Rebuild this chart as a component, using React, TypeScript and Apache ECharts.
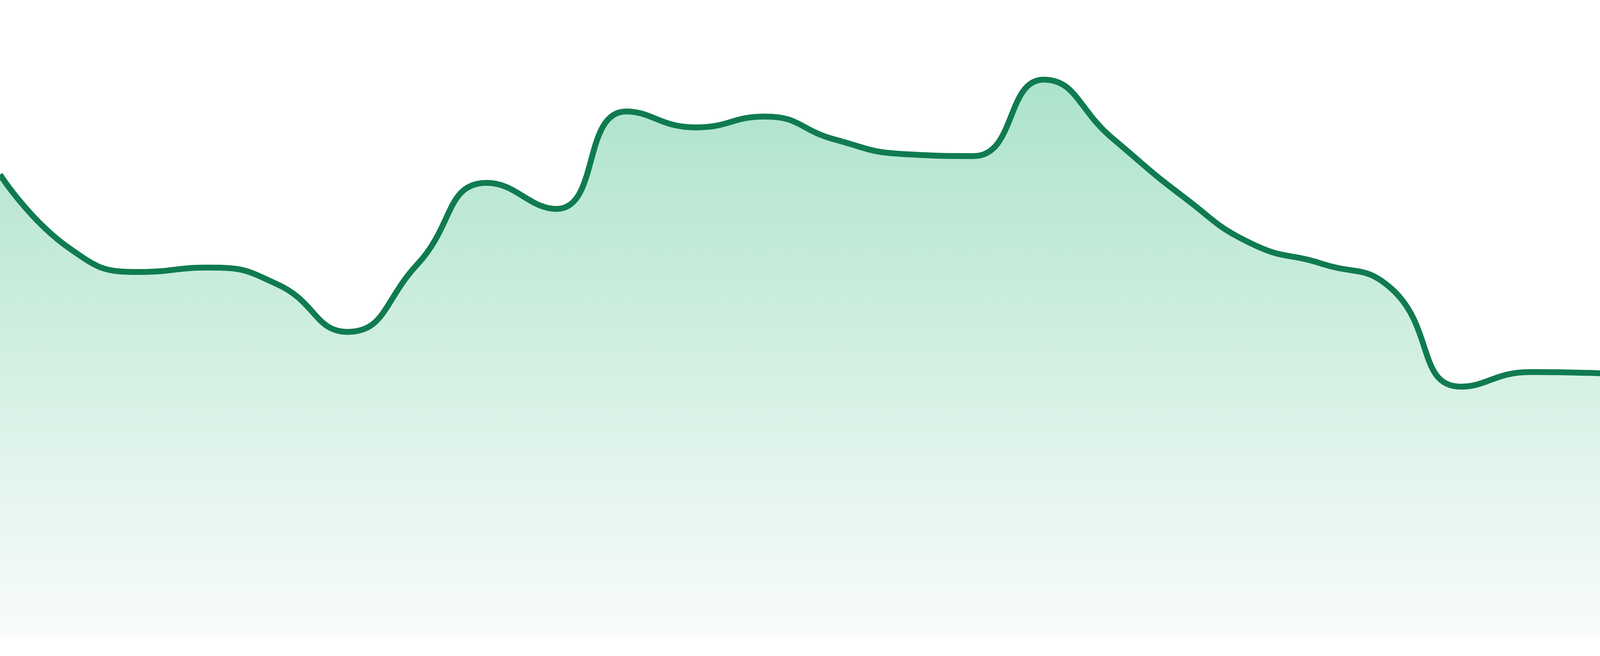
import React, { useEffect, useRef } from 'react';
import * as echarts from 'echarts';

// 24 hourly samples
const hours = [
  '00:00', '01:00', '02:00', '03:00', '04:00', '05:00', '06:00', '07:00',
  '08:00', '09:00', '10:00', '11:00', '12:00', '13:00', '14:00', '15:00',
  '16:00', '17:00', '18:00', '19:00', '20:00', '21:00', '22:00', '23:00',
];

const values = [
  72.6, 61.0, 57.3, 58.0, 55.3, 47.9, 58.5, 71.3,
  67.2, 82.5, 80.0, 81.7, 78.1, 75.8, 75.5, 87.5,
  78.2, 69.2, 61.7, 58.6, 54.7, 39.3, 41.6, 41.4,
];

const App: React.FC = () => {
  const chartRef = useRef<HTMLDivElement | null>(null);

  useEffect(() => {
    document.body.style.margin = '0';
    if (!chartRef.current) return;
    const chart = echarts.init(chartRef.current, undefined, { renderer: 'svg' });
    const h = chartRef.current.clientHeight;

    chart.setOption({
      animation: false,
      grid: { left: 0, right: 0, top: 0, bottom: '2.9%' },
      xAxis: {
        type: 'category',
        data: hours,
        boundaryGap: false,
        show: false,
      },
      yAxis: {
        type: 'value',
        min: 0,
        max: 100,
        show: false,
      },
      series: [
        {
          type: 'line',
          data: values,
          smooth: true,
          symbol: 'none',
          lineStyle: { color: '#107b50', width: 15 },
          areaStyle: {
            opacity: 1,
            // gradient spans from the highest peak down to the baseline
            color: new echarts.graphic.LinearGradient(0, (h * 200) / 1680, 0, (h * 1632) / 1680, [
              { offset: 0, color: '#ace3ca' },
              { offset: 1, color: '#f9fcfb' },
            ], true),
          },
        },
      ],
    });

    return () => {
      chart.dispose();
    };
  }, []);

  return (
    <div
      ref={chartRef}
      style={{ position: 'fixed', left: 0, top: 0, width: '100vw', height: '100vh', background: '#fff' }}
    />
  );
};

export default App;
